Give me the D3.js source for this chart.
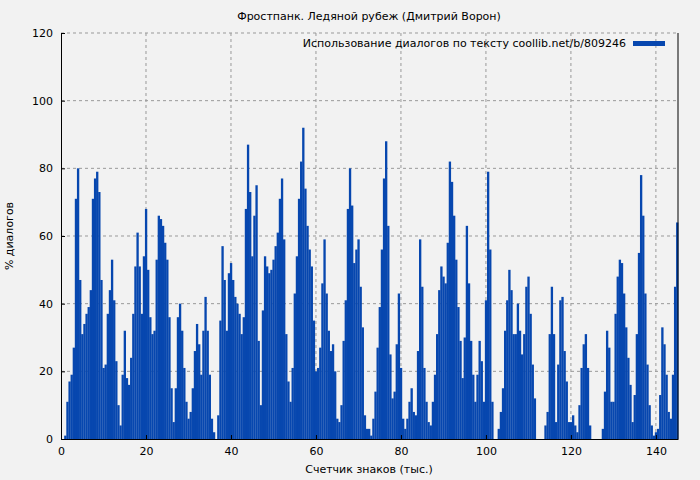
<!DOCTYPE html>
<html><head><meta charset="utf-8">
<script src="https://cdn.jsdelivr.net/npm/d3@7"></script>
<style>body{margin:0;background:#f2f2f2}text{font-family:"DejaVu Sans",sans-serif;font-size:11px}</style>
</head><body><svg id="c" width="700" height="480"></svg>
<script>
// % dialogue, one value per 0.5 thousand chars starting at 0.5
var values = [0,1,11,17,19,27,71,80,47,31,34,37,39,44,71,77,79,73,47,21,
 22,37,44,53,41,23,10,4,19,32,18,16,24,37,51,61,51,37,54,68,
 50,36,31,32,53,66,65,63,58,53,36,15,5,15,36,40,32,21,11,6,
 8,15,26,34,28,19,32,42,32,19,6,2,0,7,35,57,47,32,49,52,
 47,42,40,37,31,36,68,87,73,54,66,75,29,10,38,54,51,49,50,53,
 57,61,71,77,59,31,17,11,21,43,54,71,82,92,74,63,56,51,35,20,
 21,27,46,59,43,32,26,28,20,6,5,10,29,41,68,80,69,52,56,59,
 45,33,7,3,3,1,6,14,27,39,56,77,88,63,25,12,14,28,43,21,
 6,3,6,11,15,8,7,26,59,45,21,11,5,4,11,19,31,44,51,48,
 46,58,82,76,66,53,39,29,18,30,63,46,29,19,11,19,29,23,11,41,
 79,56,11,0,0,3,8,15,32,41,50,44,31,31,40,32,25,31,45,48,
 37,22,12,0,0,0,0,4,8,31,45,31,5,22,41,42,26,17,5,5,
 7,4,2,10,21,28,31,21,4,0,0,0,0,0,3,14,32,27,11,11,
 37,48,53,52,43,33,24,16,5,13,31,55,78,66,43,22,10,4,1,2,
 3,13,33,28,19,8,6,19,45,64];
var positions = values.map(function (d, i) { return 0.5 + i * 0.5; });
var xTicks = [0, 20, 40, 60, 80, 100, 120, 140];
var yTicks = [0, 20, 40, 60, 80, 100, 120];

var svg = d3.select("#c");
var L = 61, R = 678, T = 33, B = 439;
var x = d3.scaleLinear().domain([0, 145.2]).range([L, R]);
var y = d3.scaleLinear().domain([0, 120]).range([B, T]);

//grid
svg.append("g").selectAll("line").data(xTicks.slice(1)).enter().append("line")
    .attr("x1", x).attr("x2", x).attr("y1", T).attr("y2", B)
    .attr("stroke", "#999").attr("stroke-dasharray", "3,3");
svg.append("g").selectAll("line").data(yTicks.slice(1)).enter().append("line")
    .attr("x1", L).attr("x2", R).attr("y1", y).attr("y2", y)
    .attr("stroke", "#999").attr("stroke-dasharray", "3,3");

//bars
var bw = x(0.5) - x(0);
svg.append("g").selectAll("rect").data(values).enter().append("rect")
    .attr("x", function (d, i) { return x(positions[i]) - bw / 2; })
    .attr("width", bw + 0.2)
    .attr("y", function (d) { return y(d); })
    .attr("height", function (d) { return B - y(d); })
    .attr("fill", "#0747af");

//axes
svg.append("g").attr("transform", "translate(0," + B + ")")
    .call(d3.axisBottom(x).tickValues(xTicks).tickSize(-4).tickPadding(6).tickSizeOuter(0))
    .call(function (g) { g.select(".domain").attr("stroke", "#000"); g.selectAll("text").attr("font-size", 11).attr("dy", "0.9em"); });
svg.append("g").attr("transform", "translate(" + L + ",0)")
    .call(d3.axisLeft(y).tickValues(yTicks).tickSize(-4).tickPadding(8).tickSizeOuter(0))
    .call(function (g) { g.selectAll("text").attr("font-size", 11); });
svg.append("line").attr("x1", R).attr("x2", R).attr("y1", T).attr("y2", B).attr("stroke", "#000");

svg.append("text").attr("x", 369).attr("y", 20).attr("text-anchor", "middle")
    .text("Фростпанк. Ледяной рубеж (Дмитрий Ворон)");
svg.append("text").attr("x", 369).attr("y", 473).attr("text-anchor", "middle")
    .text("Счетчик знаков (тыс.)");
svg.append("text").attr("transform", "translate(13,236) rotate(-90)").attr("text-anchor", "middle")
    .text("% диалогов");

//legend
svg.append("text").attr("x", 626).attr("y", 47).attr("text-anchor", "end")
    .text("Использование диалогов по тексту coollib.net/b/809246");
svg.append("rect").attr("x", 633).attr("y", 41).attr("width", 32).attr("height", 5).attr("fill", "#0747af");
</script></body></html>
